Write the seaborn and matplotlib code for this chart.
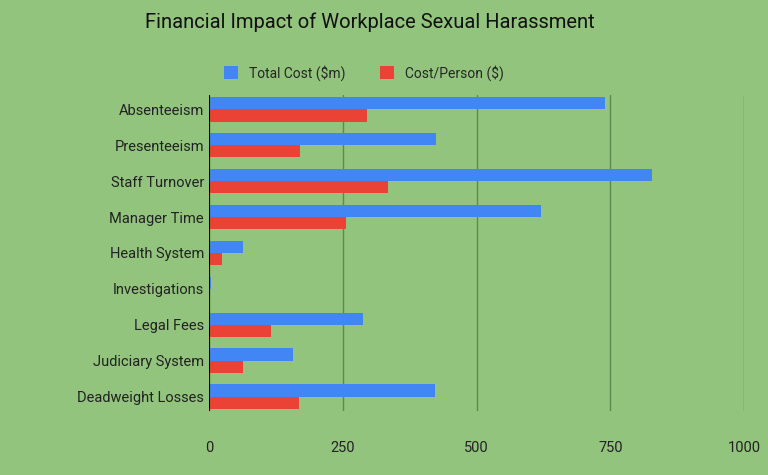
import matplotlib
matplotlib.use("Agg")
import matplotlib.pyplot as plt
import seaborn as sns
import pandas as pd

categories = ["Absenteeism","Presenteeism","Staff Turnover","Manager Time","Health System",
              "Investigations","Legal Fees","Judiciary System","Deadweight Losses"]
total_cost = [740, 424, 828, 620, 63, 4, 288, 157, 422]
cost_person = [295, 170, 335, 256, 24, 2, 116, 63, 168]
series = ["Total Cost ($m)", "Cost/Person ($)"]

df = pd.DataFrame({"Elements": categories*2,
                   "value": total_cost+cost_person,
                   "series": [series[0]]*9+[series[1]]*9})

bg = "#93c47d"
sns.set_theme(style="white")
plt.rcParams['font.family'] = ['Roboto', 'DejaVu Sans']
fig, ax = plt.subplots(figsize=(7.68, 4.75), dpi=100)
fig.patch.set_facecolor(bg); ax.set_facecolor(bg)
sns.barplot(data=df, y="Elements", x="value", hue="series", orient="h",
            palette=["#4285f4", "#ea4335"], ax=ax, width=0.68, saturation=1,
            linewidth=0)
ax.set_xlim(0, 1000)
ax.set_ylim(8.4, -0.4)
ax.set_xticks([0, 250, 500, 750, 1000])
ax.set_xticklabels(["0", "250", "500", "750", "1000"])
ax.xaxis.grid(True, color="#5e8a4c", lw=1)
ax.set_axisbelow(True)
ax.axvline(0, color="black", lw=1.5, zorder=5)
for s in ax.spines.values(): s.set_visible(False)
ax.tick_params(length=0, labelsize=10.5, colors="#222222")
ax.tick_params(axis="x", pad=22)
ax.set_xlabel("")
ax.set_ylabel("Elements", fontsize=11, color="#222222", labelpad=70)
ax.set_title("Financial Impact of Workplace Sexual Harassment", fontsize=14.5, pad=48,
             color="#111111", x=0.3)
ax.legend(loc="upper center", bbox_to_anchor=(0.29, 1.135), ncol=2, frameon=False,
          fontsize=10, handlelength=1, handleheight=1, columnspacing=2.5)
plt.subplots_adjust(left=0.272, right=0.969, top=0.80, bottom=0.135)
fig.savefig("out.png", facecolor=bg)
